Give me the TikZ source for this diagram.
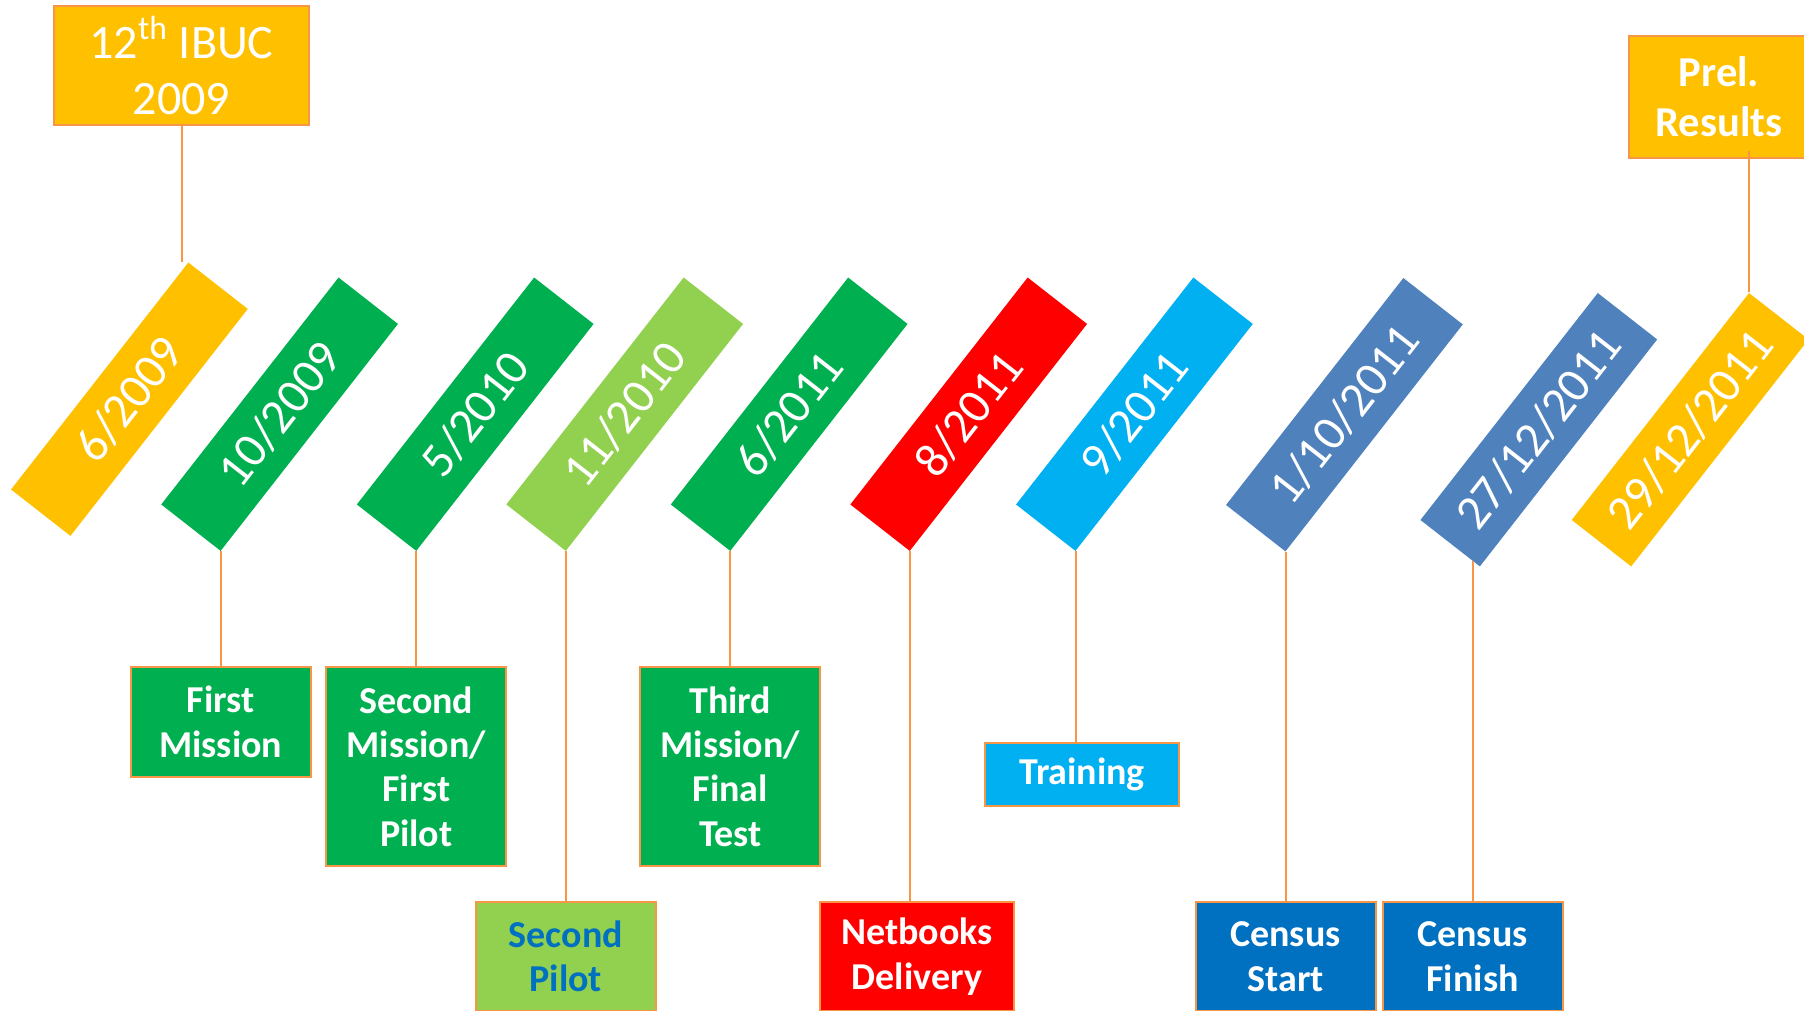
\documentclass[tikz,border=0pt]{standalone}
\usepackage{fontspec}
\setmainfont{Carlito}
\usetikzlibrary{calc}

\definecolor{tlyellow}{HTML}{FFC000}
\definecolor{tlgreen}{HTML}{00B050}
\definecolor{tllime}{HTML}{92D050}
\definecolor{tlred}{HTML}{FF0000}
\definecolor{tlcyan}{HTML}{00B0F0}
\definecolor{tlsteel}{HTML}{4F81BD}
\definecolor{tlblue}{HTML}{0070C0}
\definecolor{tlorange}{HTML}{F79646}

\tikzset{
  band/.style={rectangle, minimum width=144pt, minimum height=37.7pt, inner sep=0pt,
    rotate=52, text=white, font=\fontsize{24.5}{28}\selectfont},
  evbox/.style={rectangle, draw=tlorange, line width=1pt, inner sep=0pt, align=center,
    text=white, minimum width=90pt, font=\bfseries\fontsize{19}{22.2}\selectfont},
  link/.style={draw=tlorange, line width=1pt}
}

\begin{document}
\begin{tikzpicture}[x=0.5pt,y=-0.5pt]
\useasboundingbox (0,0) rectangle (1804,1011);

% the dates
\foreach \cx/\cy/\col/\dt [count=\i] in {
    129.4/399.2/tlyellow/6\slash 2009,
    279.6/414.2/tlgreen/10\slash 2009,
    475.2/414.2/tlgreen/5\slash 2010,
    624.7/414.2/tllime/11\slash 2010,
    789.2/414.2/tlgreen/6\slash 2011,
    968.7/414.2/tlred/8\slash 2011,
    1134.4/414.2/tlcyan/9\slash 2011,
    1344.4/414.7/tlsteel/1\slash 10\slash 2011,
    1538.8/429.7/tlsteel/27\slash 12\slash 2011,
    1690.1/429.7/tlyellow/29\slash 12\slash 2011}
  \node[band, fill=\col] (b\i) at (\cx,\cy) {\dt};

% the events
\node[evbox, fill=tlyellow, minimum width=127.5pt, minimum height=59.5pt,
  font=\fontsize{24}{29}\selectfont] (ibuc) at (181.5,65.5) {12\textsuperscript{th} IBUC\\[-1pt]2009};
\node[evbox, fill=tlyellow, minimum height=61pt, font=\bfseries\fontsize{21.3}{25}\selectfont]
  (prel) at (1719,97) {Prel.\\Results};

\node[evbox, fill=tlgreen, anchor=north, minimum height=54.75pt] (m1) at (b2.south west |- 0,666) {First\\Mission};
\node[evbox, fill=tlgreen, anchor=north, minimum height=99.5pt] (m2) at (b3.south west |- 0,666) {Second\\Mission/\\First\\Pilot};
\node[evbox, fill=tllime, anchor=north, minimum height=54.5pt, text=tlblue] (p2) at (b4.south west |- 0,901) {Second\\Pilot};
\node[evbox, fill=tlgreen, anchor=north, minimum height=99.5pt] (m3) at (b5.south west |- 0,666) {Third\\Mission/\\Final\\Test};
\node[evbox, fill=tlred, anchor=north, minimum width=97pt, minimum height=54.5pt] (net) at (917,901) {Netbooks\\Delivery};
\node[evbox, fill=tlcyan, anchor=north, minimum width=97pt, minimum height=31.5pt] (train) at (1082,742) {Training};
\node[evbox, fill=tlblue, anchor=north, minimum height=54.5pt] (cs) at (b8.south west |- 0,901) {Census\\Start};
\node[evbox, fill=tlblue, anchor=north, minimum height=54.5pt] (cf) at (1472.5,901) {Census\\Finish};

% links
\draw[link] (ibuc.south) -- (ibuc.south |- b1.north east);
\draw[link] (b10.north east) -- ($(b10.north east |- prel.south)+(0,-8)$);
\draw[link] (b2.south west) -- (m1.north);
\draw[link] (b3.south west) -- (m2.north);
\draw[link] (b4.south west) -- (p2.north);
\draw[link] (b5.south west) -- (m3.north);
\draw[link] (b6.south west) -- (b6.south west |- net.north);
\draw[link] (b7.south west) -- (b7.south west |- train.north);
\draw[link] (b8.south west) -- (cs.north);
\draw[link] ($(cf.north |- b9.south west)+(0,-6)$) -- (cf.north);
\end{tikzpicture}
\end{document}
